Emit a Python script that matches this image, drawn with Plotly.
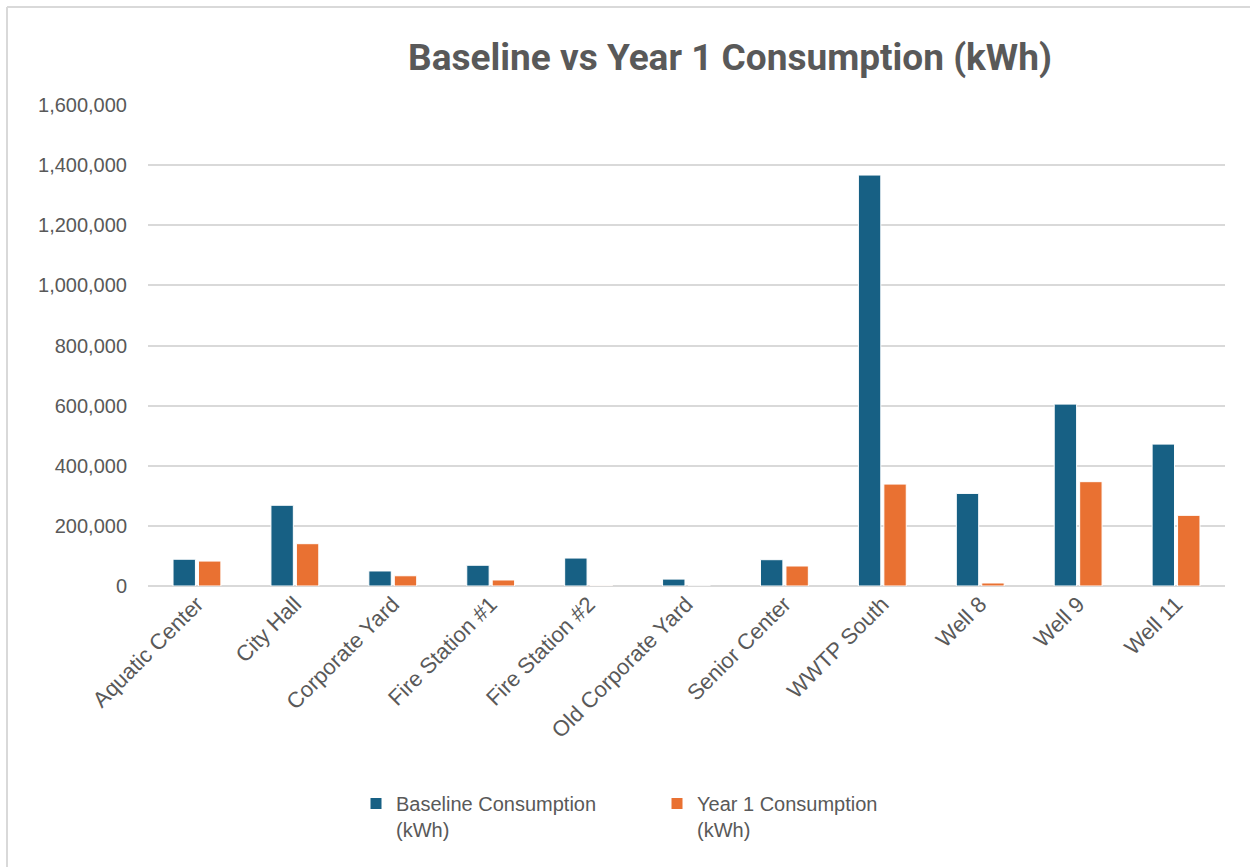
import plotly.graph_objects as go

categories = ["Aquatic Center", "City Hall", "Corporate Yard", "Fire Station #1",
              "Fire Station #2", "Old Corporate Yard", "Senior Center", "WWTP South",
              "Well 8", "Well 9", "Well 11"]
baseline = [89000, 268500, 50000, 69000, 93000, 23000, 87500, 1367000, 308000, 605000, 472000]
year1 = [83000, 140700, 34000, 20000, 2000, 0, 66500, 339000, 10000, 347000, 235000]
series_names = ["Baseline Consumption<br>(kWh)", "Year 1 Consumption<br>(kWh)"]
tick_vals = [0, 200000, 400000, 600000, 800000, 1000000, 1200000, 1400000, 1600000]

W, H = 1250, 867
L, R, T, B = 148, 25, 105, 281
pw = W - L - R
ph = H - T - B

fig = go.Figure()
fig.add_trace(go.Bar(x=categories, y=baseline, name=series_names[0],
                     marker=dict(color="#176084", line=dict(color="white", width=1))))
fig.add_trace(go.Bar(x=categories, y=year1, name=series_names[1],
                     marker=dict(color="#E97132", line=dict(color="white", width=1))))

grey = "#595959"
fnt = "Liberation Sans"
fig.update_layout(
    width=W, height=H,
    margin=dict(l=L, r=R, t=T, b=B, autoexpand=False),
    paper_bgcolor="white", plot_bgcolor="white",
    barmode="group", bargap=0.48, bargroupgap=0.12,
    title=dict(text="<b>Baseline vs Year 1 Consumption (kWh)</b>",
               x=730 / W, xanchor="center", y=1 - 57 / H, yanchor="middle",
               font=dict(family="Roboto", size=37, color=grey)),
    font=dict(family=fnt, color=grey),
    xaxis=dict(tickangle=-45, tickfont=dict(size=22, color=grey, family=fnt),
               showgrid=False, showline=False, ticks="", ticklen=0),
    yaxis=dict(range=[0, 1600000], tickvals=tick_vals, tickformat=",d",
               tickfont=dict(size=20, color=grey, family=fnt),
               showgrid=True, gridcolor="#d9d9d9", gridwidth=1.5,
               zeroline=True, zerolinecolor="#d9d9d9", zerolinewidth=1.5,
               ticks="", ticklabelstandoff=20),
    legend=dict(orientation="h", x=(356 - L) / pw, xanchor="left",
                y=-(784 - (T + ph)) / ph, yanchor="top",
                entrywidth=256, entrywidthmode="pixels", valign="top",
                font=dict(size=20, color=grey, family=fnt),
                traceorder="normal", itemwidth=30),
    showlegend=True,
)

# chart area border (left and top edges visible)
x_left = (7 - L) / pw
y_top = (T + ph - 7) / ph
fig.add_shape(type="line", xref="paper", yref="paper", x0=x_left, x1=x_left,
              y0=-5, y1=y_top, line=dict(color="#d9d9d9", width=2))
fig.add_shape(type="line", xref="paper", yref="paper", x0=x_left, x1=5,
              y0=y_top, y1=y_top, line=dict(color="#d9d9d9", width=2))

fig.write_html("out.html")
